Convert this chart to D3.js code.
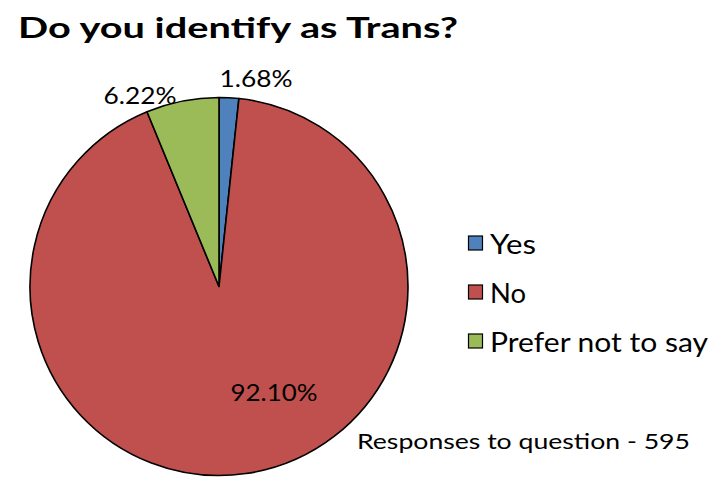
<!DOCTYPE html>
<html><head><meta charset="utf-8">
<script src="https://cdn.jsdelivr.net/npm/d3@7"></script>
<style>body{margin:0;background:#fff}svg{display:block}</style>
</head><body>
<svg id="c" width="724" height="477"></svg>
<script>
const categories = ["Yes", "No", "Prefer not to say"];
const values = [1.68, 92.10, 6.22];
const labels = ["1.68%", "92.10%", "6.22%"];
const colors = ["#4F81BD", "#C0504D", "#9BBB59"];
const title = "Do you identify as Trans?";
const note = "Responses to question - 595";

const svg = d3.select("#c");
const font = "Lato, Open Sans, sans-serif";
const cx = 219, cy = 286.5, r = 189;

svg.append("text").attr("x", 18).attr("y", 38)
  .attr("font-family", font).attr("font-weight", "bold").attr("font-size", 29)
  .attr("textLength", 440).attr("lengthAdjust", "spacingAndGlyphs")
  .attr("fill", "#000").text(title);

const data = categories.map((c, i) => ({cat: c, v: values[i], label: labels[i], color: colors[i]}));
const pie = d3.pie().value(d => d.v).sort(null);
const arc = d3.arc().innerRadius(0).outerRadius(r);
const arcs = pie(data);

const g = svg.append("g").attr("transform", `translate(${cx},${cy})`);
g.selectAll("path").data(arcs).join("path")
  .attr("d", arc).attr("fill", d => d.data.color)
  .attr("stroke", "#000").attr("stroke-width", 1.6).attr("stroke-linejoin", "round");

// data labels
const labelPos = [
  {x: 256, y: 87},   // Yes
  {x: 274, y: 401},  // No
  {x: 140, y: 104}   // Prefer not to say
];
svg.selectAll("text.lbl").data(arcs).join("text").attr("class", "lbl")
  .attr("x", (d, i) => labelPos[i].x).attr("y", (d, i) => labelPos[i].y)
  .attr("text-anchor", "middle").attr("font-family", font).attr("font-size", 23.5)
  .attr("textLength", (d, i) => i === 1 ? 87 : 73).attr("lengthAdjust", "spacingAndGlyphs")
  .attr("fill", "#000").text(d => d.data.label);

// legend
const lg = svg.append("g");
const legendY = d3.scalePoint().domain(categories).range([243, 341]);
const widths = [46, 36, 218];
categories.forEach((c, i) => {
  const y = legendY(c);
  lg.append("rect").attr("x", 468.5).attr("y", y - 7).attr("width", 14).attr("height", 14)
    .attr("fill", colors[i]).attr("stroke", "#000").attr("stroke-width", 1.2);
  lg.append("text").attr("x", 490).attr("y", y + 11)
    .attr("font-family", font).attr("font-size", 26)
    .attr("textLength", widths[i]).attr("lengthAdjust", "spacingAndGlyphs")
    .attr("fill", "#000").text(c);
});

svg.append("text").attr("x", 357).attr("y", 449)
  .attr("font-family", font).attr("font-size", 22)
  .attr("textLength", 333).attr("lengthAdjust", "spacingAndGlyphs")
  .attr("fill", "#000").text(note);
</script>
</body></html>
